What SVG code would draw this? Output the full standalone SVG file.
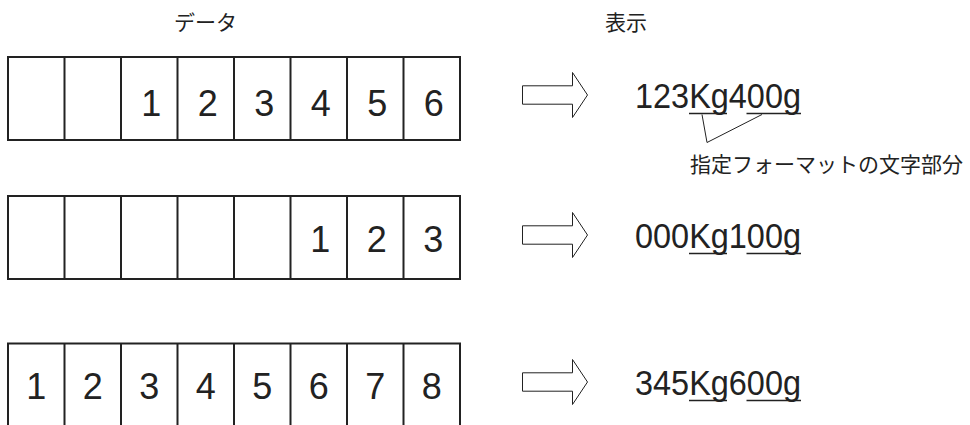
<svg xmlns="http://www.w3.org/2000/svg" width="970" height="425" viewBox="0 0 970 425">
<defs>
<style>
.cell{fill:none;stroke:#222;stroke-width:2}
.num{font-family:"Liberation Sans",Arial,sans-serif;font-size:36px;fill:#222;text-anchor:middle}
.disp{font-family:"Liberation Sans",Arial,sans-serif;font-size:35px;fill:#222}
.jp{font-family:"Noto Sans CJK JP","Noto Sans",sans-serif;font-size:21px;fill:#222}
.arrow{fill:#fff;stroke:#222;stroke-width:1}
.ul{stroke:#222;stroke-width:1.6}
.call{stroke:#222;stroke-width:1;fill:none}
</style>
<path id="arr" d="M0,-9.2 H50 V-22.5 L65,0 L50,22.5 V9.2 H0 Z"/>
</defs>
<rect width="970" height="425" fill="#fff"/>

<g id="header-data"><text class="jp" x="174" y="30">データ</text></g>
<g id="header-display"><text class="jp" x="605" y="30">表示</text></g>

<g id="row1-data">
<rect class="cell" x="8" y="57" width="452" height="83"/>
<path class="cell" d="M64.5,57V140M121,57V140M177.5,57V140M234,57V140M290.5,57V140M347,57V140M403.5,57V140"/>
<text class="num" x="151.25" y="116">1</text>
<text class="num" x="207.75" y="116">2</text>
<text class="num" x="264.25" y="116">3</text>
<text class="num" x="320.75" y="116">4</text>
<text class="num" x="377.25" y="116">5</text>
<text class="num" x="433.75" y="116">6</text>
</g>

<g id="row2-data">
<rect class="cell" x="8" y="196" width="452" height="83"/>
<path class="cell" d="M64.5,196V279M121,196V279M177.5,196V279M234,196V279M290.5,196V279M347,196V279M403.5,196V279"/>
<text class="num" x="320.25" y="252">1</text>
<text class="num" x="376.75" y="252">2</text>
<text class="num" x="433.25" y="252">3</text>
</g>

<g id="row3-data">
<path class="cell" d="M8,430V343.5H460V430M64.5,343.5V430M121,343.5V430M177.5,343.5V430M234,343.5V430M290.5,343.5V430M347,343.5V430M403.5,343.5V430"/>
<text class="num" x="36.25" y="399">1</text>
<text class="num" x="92.75" y="399">2</text>
<text class="num" x="149.25" y="399">3</text>
<text class="num" x="205.75" y="399">4</text>
<text class="num" x="262.25" y="399">5</text>
<text class="num" x="318.75" y="399">6</text>
<text class="num" x="375.25" y="399">7</text>
<text class="num" x="431.75" y="399">8</text>
</g>

<g id="row1-arrow"><use href="#arr" class="arrow" x="522.5" y="95"/></g>
<g id="row2-arrow"><use href="#arr" class="arrow" x="522.5" y="235"/></g>
<g id="row3-arrow"><use href="#arr" class="arrow" x="522.5" y="382"/></g>

<g id="row1-display">
<text class="disp" x="635" y="108" textLength="166" lengthAdjust="spacingAndGlyphs">123Kg400g</text>
<path class="ul" d="M689,113.5H727M746.5,113.5H801"/>
</g>
<g id="row2-display">
<text class="disp" x="635" y="248" textLength="166" lengthAdjust="spacingAndGlyphs">000Kg100g</text>
<path class="ul" d="M689,253.5H727M746.5,253.5H801"/>
</g>
<g id="row3-display">
<text class="disp" x="635" y="395" textLength="166" lengthAdjust="spacingAndGlyphs">345Kg600g</text>
<path class="ul" d="M689,400.5H727M746.5,400.5H801"/>
</g>

<g id="format-label"><text class="jp" x="690" y="172">指定フォーマットの文字部分</text></g>

<g id="connectors">
<path class="call" d="M702,114.5L707,142.5L762,114.5"/>
</g>
</svg>
